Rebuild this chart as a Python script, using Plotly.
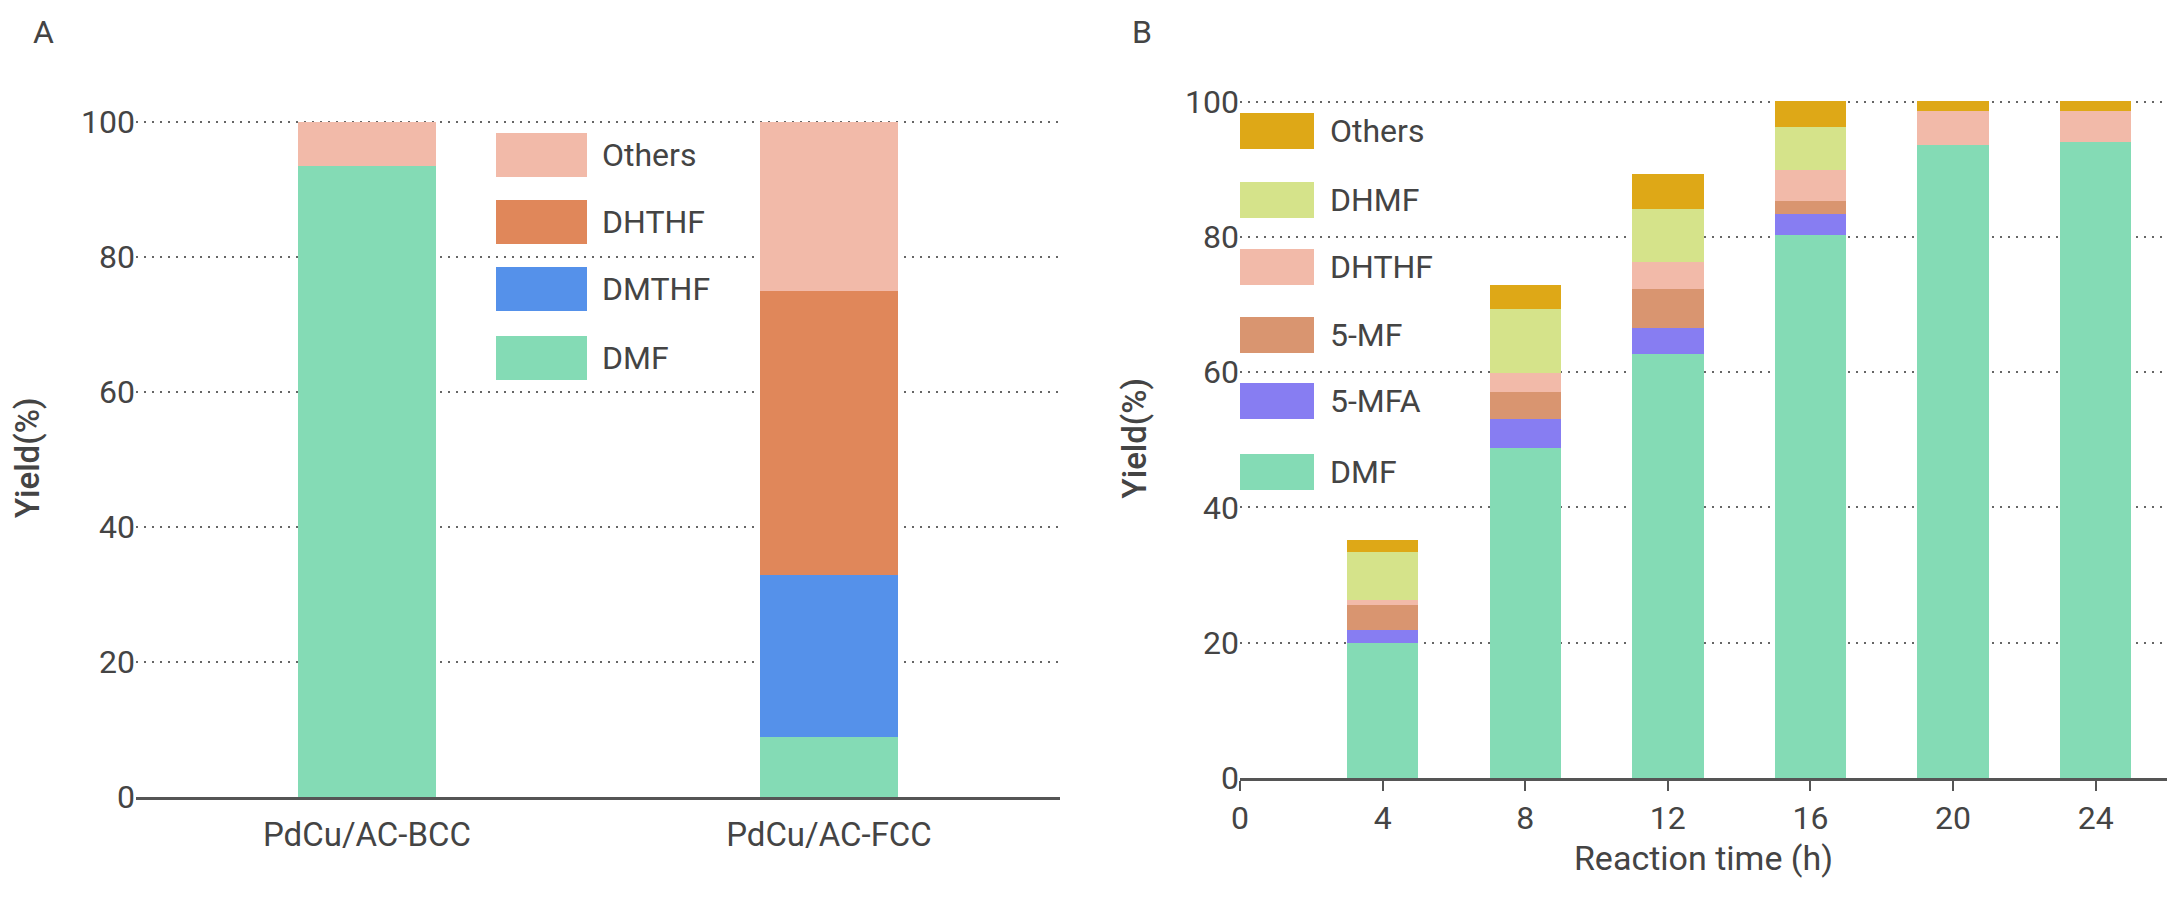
import plotly.graph_objects as go

W, H = 2184, 902
OFF = 8  # page body margin that shifts the figure in the browser

# Panel A: product distribution per catalyst
catalysts = ['PdCu/AC-BCC', 'PdCu/AC-FCC']
a_series = ['DMF', 'DMTHF', 'DHTHF', 'Others']
a_dmf = [93.6, 9.0]
a_dmthf = [0.0, 23.9]
a_dhthf = [0.0, 42.1]
a_others = [6.4, 25.0]

# Panel B: yield vs reaction time
hours = [4, 8, 12, 16, 20, 24]
b_series = ['DMF', '5-MFA', '5-MF', 'DHTHF', 'DHMF', 'Others']
b_dmf = [19.9, 48.8, 62.6, 80.3, 93.6, 94.0]
b_mfa = [1.9, 4.3, 3.9, 3.0, 0.0, 0.0]
b_mf = [3.7, 4.0, 5.7, 2.0, 0.0, 0.0]
b_dhthf = [0.8, 2.7, 4.0, 4.5, 5.0, 4.6]
b_dhmf = [7.1, 9.5, 7.9, 6.4, 0.0, 0.0]
b_others = [1.8, 3.6, 5.2, 3.8, 1.4, 1.4]

a_colors = {'DMF': '#84DBB5', 'DMTHF': '#5591EA', 'DHTHF': '#E0875A', 'Others': '#F2BAA9'}
b_colors = {'DMF': '#84DBB5', '5-MFA': '#877DF2', '5-MF': '#D99570',
            'DHTHF': '#F2BAA9', 'DHMF': '#D5E38A', 'Others': '#DEA817'}

TEXT = '#444444'
FONT = 'Roboto'


def px_x(v):
    return (v - OFF) / W


def px_y(v):
    return 1 - (v - OFF) / H


fig = go.Figure()

a_values = [a_dmf, a_dmthf, a_dhthf, a_others]
for name, vals in zip(a_series, a_values):
    fig.add_trace(go.Bar(
        x=catalysts, y=vals, name=name, width=0.3,
        marker=dict(color=a_colors[name], line=dict(width=0)),
        xaxis='x', yaxis='y', showlegend=False
    ))

b_values = [b_dmf, b_mfa, b_mf, b_dhthf, b_dhmf, b_others]
for name, vals in zip(b_series, b_values):
    fig.add_trace(go.Bar(
        x=hours, y=vals, name=name, width=2,
        marker=dict(color=b_colors[name], line=dict(width=0)),
        xaxis='x2', yaxis='y2', showlegend=False
    ))

grid = dict(showgrid=True, gridcolor='#666666', griddash='2px,6px', gridwidth=2,
            zeroline=False, showline=False, range=[0, 100.5], tickvals=[0, 20, 40, 60, 80, 100],
            tickfont=dict(family=FONT, size=32, color=TEXT), ticks='', automargin=False,
            title=dict(text='Yield(%)', font=dict(family=FONT, size=33, color=TEXT, weight=500)))

fig.update_layout(
    width=W, height=H,
    margin=dict(l=0, r=0, t=0, b=0),
    paper_bgcolor='white', plot_bgcolor='white',
    barmode='stack', bargap=0,
    font=dict(family=FONT, color=TEXT),
    xaxis=dict(
        domain=[px_x(136), px_x(1060)], anchor='y', type='category', automargin=False,
        range=[-0.5, 1.5], showgrid=False, showline=True, linecolor='#555555', linewidth=3,
        ticks='', ticklabelstandoff=6, tickfont=dict(family=FONT, size=33, color=TEXT)
    ),
    yaxis=dict(domain=[px_y(797), px_y(118.6)], anchor='x', title_standoff=38, **grid),
    xaxis2=dict(
        domain=[px_x(1240), px_x(2167)], anchor='y2', automargin=False,
        range=[0, 26], tickvals=[0, 4, 8, 12, 16, 20, 24], showgrid=False,
        showline=True, linecolor='#555555', linewidth=3,
        ticks='outside', ticklen=10, tickwidth=2, tickcolor='#555555',
        tickfont=dict(family=FONT, size=32, color=TEXT),
        title=dict(text='Reaction time (h)', font=dict(family=FONT, size=34, color=TEXT),
                   standoff=10)
    ),
    yaxis2=dict(domain=[px_y(778), px_y(98.3)], anchor='x2', title_standoff=28, **grid),
)

# panel labels
for label, x in [('A', 43), ('B', 1142)]:
    fig.add_annotation(x=px_x(x), y=px_y(32), xref='paper', yref='paper', text=label,
                       showarrow=False, xanchor='center', yanchor='middle',
                       font=dict(family=FONT, size=32, color=TEXT))


# custom legends with large swatches
def add_legend(names, colors, x0, x1, tops, h, text_x, size):
    for name, top in zip(names, tops):
        fig.add_shape(type='rect', xref='paper', yref='paper',
                      x0=px_x(x0), x1=px_x(x1), y0=px_y(top + h), y1=px_y(top),
                      fillcolor=colors[name], line=dict(width=0))
        fig.add_annotation(x=px_x(text_x), y=px_y(top + h / 2), xref='paper', yref='paper',
                           text=name, showarrow=False, xanchor='left', yanchor='middle',
                           font=dict(family=FONT, size=size, color=TEXT))


add_legend(['Others', 'DHTHF', 'DMTHF', 'DMF'], a_colors, 496, 587,
           [133, 200, 267, 336], 44, 600, 32)
add_legend(['Others', 'DHMF', 'DHTHF', '5-MF', '5-MFA', 'DMF'], b_colors, 1240, 1314,
           [113, 182, 249, 317, 383, 454], 36, 1328, 32)

fig.write_html('out.html')
